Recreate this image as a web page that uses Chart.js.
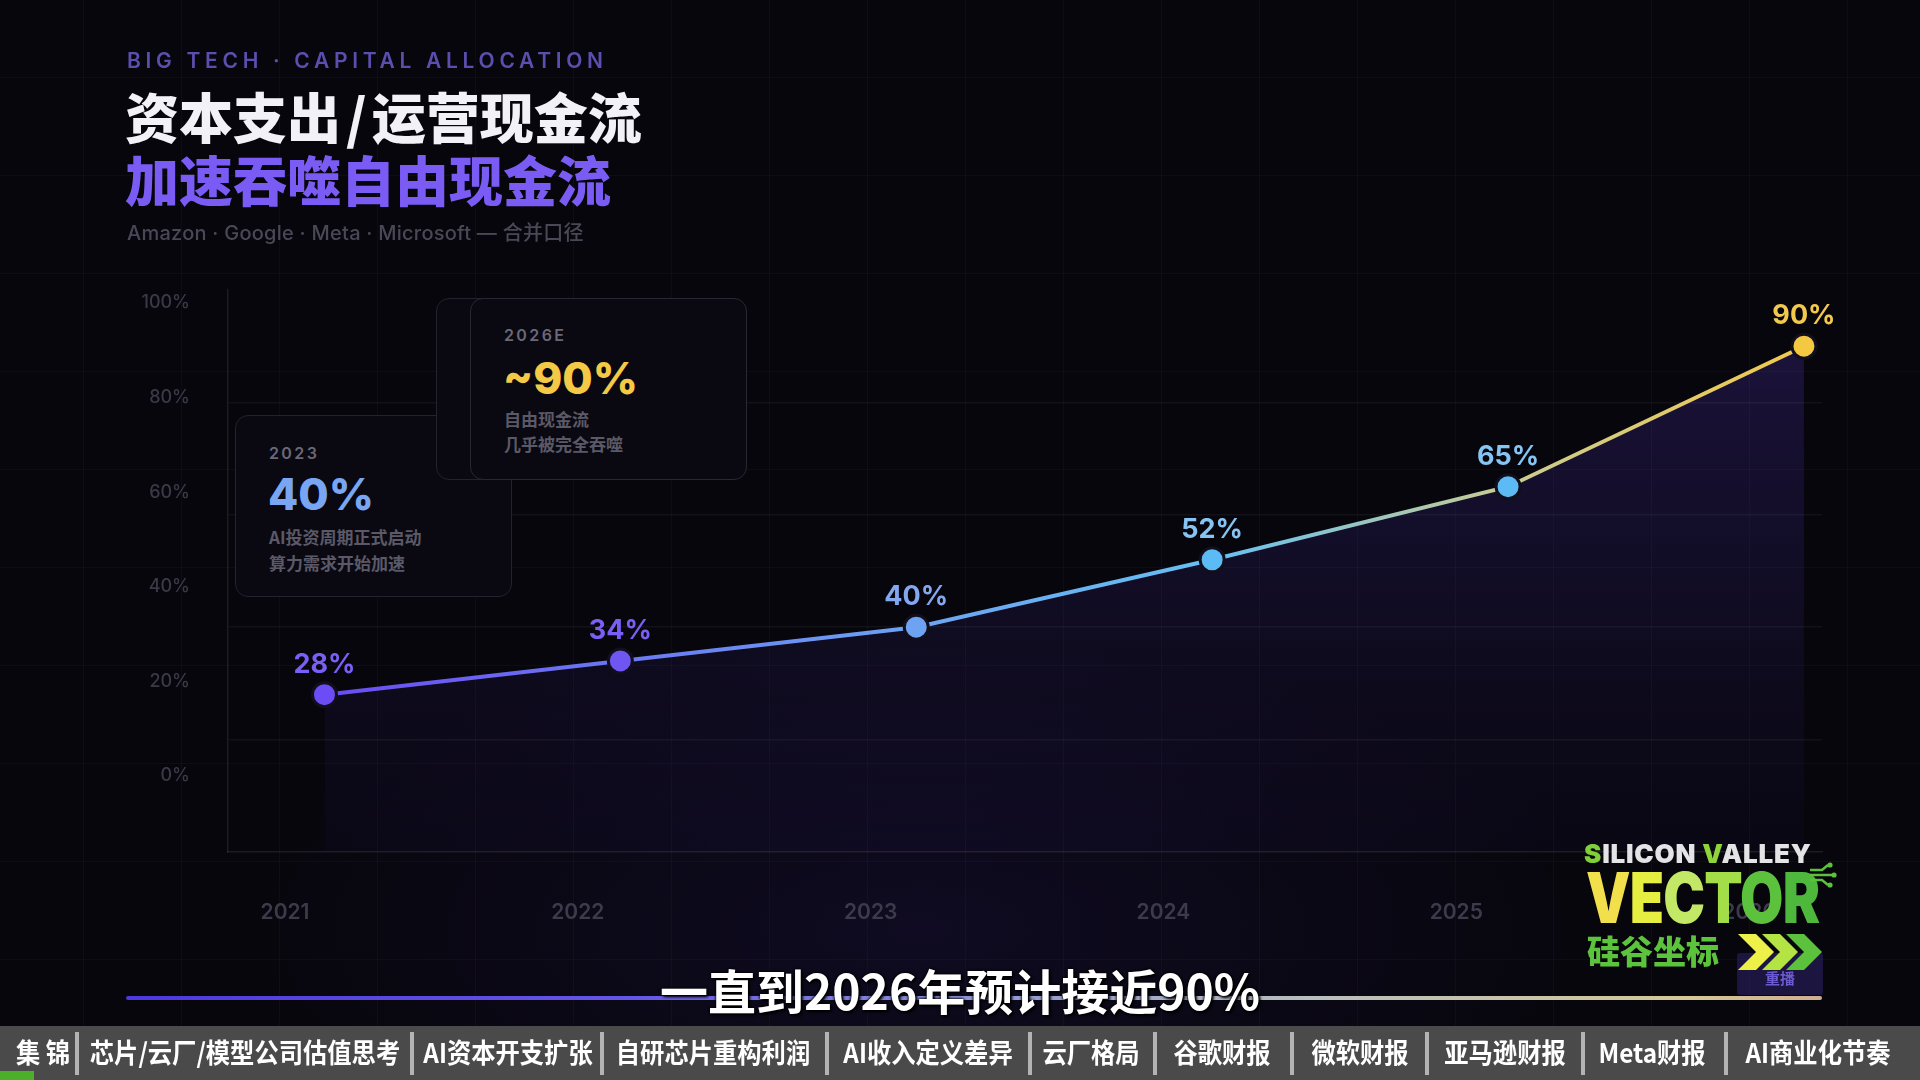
<!DOCTYPE html>
<html><head><meta charset="utf-8">
<script src="https://cdn.jsdelivr.net/npm/chart.js@4.4.1/dist/chart.umd.min.js"></script>
<style>
html,body{margin:0;padding:0;width:1920px;height:1080px;overflow:hidden;}
body{position:relative;font-family:Inter,"Noto Sans CJK SC",sans-serif;
 background:
  radial-gradient(ellipse 1000px 420px at 48% 86%, rgba(48,30,120,0.20), rgba(0,0,0,0) 70%),
  linear-gradient(rgba(255,255,255,0.028) 1px, rgba(0,0,0,0) 1px) 0px 77px / 98px 98px,
  linear-gradient(90deg, rgba(255,255,255,0.028) 1px, rgba(0,0,0,0) 1px) 83px 0px / 98px 98px,
  #07060c;}
#c{position:absolute;left:0;top:0;z-index:1;}
.abs{position:absolute;white-space:nowrap;}
.eyebrow{left:127px;top:48px;font:600 21px/26px Inter,sans-serif;letter-spacing:4.7px;color:#5a4fae;z-index:2;}
.t1{left:125px;top:86px;font:800 54px/60px "Noto Sans CJK SC",sans-serif;color:#f3f1f8;z-index:2;}
.t1 .sl{margin:0 5px;}
.t2{left:125px;top:149px;font:800 54px/60px "Noto Sans CJK SC",sans-serif;color:#7a5cf4;z-index:2;}
.sub{left:127px;top:221px;font:500 20px/24px Inter,"Noto Sans CJK SC",sans-serif;letter-spacing:0.25px;color:#4a4857;z-index:2;}
.card{position:absolute;width:277px;height:182px;box-sizing:border-box;border:1.5px solid #24222e;border-radius:13px;background:#0a0911;z-index:2;}
.card .yr{position:absolute;left:33px;font:600 16px/20px Inter,sans-serif;letter-spacing:2.4px;color:#6a6878;}
.card .big{position:absolute;left:32px;font:800 44px/46px Inter,sans-serif;}
.card .ln{position:absolute;left:33px;font:600 17px/22px "Noto Sans CJK SC",sans-serif;color:#5b5968;}
.caption{left:0;width:1920px;top:962px;text-align:center;font:700 48px/54px "Noto Sans CJK SC",sans-serif;color:#fff;z-index:6;
  text-shadow:0 0 3px #000,0 0 3px #000,2px 2px 3px #000;}
.prog{left:126px;top:996px;width:1696px;height:4px;border-radius:2px;z-index:3;
  background:linear-gradient(90deg,#4d39dc 0%,#6656e6 30%,#8f97d6 50%,#b9bfbc 70%,#d4c898 92%,#cfae8e 100%);}
.bar{left:0;top:1026px;width:1920px;height:54px;background:#4a4a4a;z-index:7;}
.bar .it{position:absolute;top:0;height:54px;font:700 27px/52px "Noto Sans CJK SC",sans-serif;color:#fff;transform:translateX(-50%) scaleX(0.9);white-space:nowrap;}
.bar .sp{position:absolute;top:6px;width:4px;height:43px;background:#b3b3b3;}
.bar .gr{position:absolute;left:0;top:45px;width:34px;height:9px;background:#4caf2a;}
.logo{z-index:5;}
</style></head>
<body>
<canvas id="c" width="1920" height="1080"></canvas>

<div class="abs eyebrow">BIG TECH · CAPITAL ALLOCATION</div>
<div class="abs t1">资本支出<span class="sl">/</span>运营现金流</div>
<div class="abs t2">加速吞噬自由现金流</div>
<div class="abs sub">Amazon · Google · Meta · Microsoft — 合并口径</div>

<div class="card" style="left:235px;top:415px;">
  <div class="yr" style="top:27px;">2023</div>
  <div class="big" style="top:55px;color:#79a6f2;">40%</div>
  <div class="ln" style="top:110px;">AI投资周期正式启动</div>
  <div class="ln" style="top:136px;">算力需求开始加速</div>
</div>
<div class="card" style="left:436px;top:298px;"></div>
<div class="card" style="left:470px;top:298px;border-color:#292733;">
  <div class="yr" style="top:26px;">2026E</div>
  <div class="big" style="top:56px;color:#f4c945;">~90%</div>
  <div class="ln" style="top:109px;">自由现金流</div>
  <div class="ln" style="top:134px;">几乎被完全吞噬</div>
</div>

<div class="abs prog"></div>

<div class="abs logo" style="left:1584px;top:841px;font:900 26px/26px Inter,sans-serif;letter-spacing:0.8px;color:#e4e4e6;">
  <span style="color:#7fce3a">S</span>ILICON <span style="color:#8fd43a">V</span>ALLEY</div>
<div class="abs logo" style="left:1586px;top:860px;font:900 70px/76px Inter,sans-serif;letter-spacing:-1px;transform-origin:0 50%;transform:scaleX(0.8);">
  <span style="color:#f2df4c">V</span><span style="color:#e6ee42">E</span><span style="color:#c2e866">C</span><span style="color:#a3de48">T</span><span style="color:#5cc23e">O</span><span style="color:#4db83c">R</span></div>
<svg class="abs logo" style="left:1808px;top:862px;" width="30" height="28" viewBox="0 0 30 28">
  <g stroke="#5cc23e" stroke-width="2.5" fill="none"><path d="M2 8 L14 8 L20 3"/><path d="M2 13 L24 13"/><path d="M2 18 L14 18 L20 23"/></g>
  <g fill="#5cc23e"><circle cx="22" cy="3" r="2.6"/><circle cx="26" cy="13" r="2.6"/><circle cx="22" cy="23" r="2.6"/></g>
</svg>
<div class="abs logo" style="left:1587px;top:931px;font:900 33px/38px 'Noto Sans CJK SC',sans-serif;color:#5cc43c;">硅谷坐标</div>
<div class="abs logo" style="left:1737px;top:953px;width:86px;height:42px;background:rgba(72,52,170,0.32);border-radius:3px;"></div>
<div class="abs logo" style="left:1737px;top:968px;width:86px;text-align:center;font:700 15px/20px 'Noto Sans CJK SC',sans-serif;color:#6b5ad0;">重播</div>
<svg class="abs logo" style="left:1738px;top:934px;z-index:6" width="90" height="36" viewBox="0 0 90 36">
  <polygon points="0,0 18,0 36,18 18,36 0,36 18,18" fill="#eef04a"/>
  <polygon points="24,0 42,0 60,18 42,36 24,36 42,18" fill="#b4e444"/>
  <polygon points="48,0 66,0 84,18 66,36 48,36 66,18" fill="#5cc23e"/>
</svg>

<div class="abs caption">一直到2026年预计接近90%</div>

<div class="abs bar" id="bar"></div>

<script>
// ---- data ----
const years = ['2021', '2022', '2023', '2024', '2025', '2026'];
const ratioValues = [28, 34, 40, 52, 65, 90];
const yTickValues = [0, 20, 40, 60, 80, 100];
const navItems = ['集 锦', '芯片/云厂/模型公司估值思考', 'AI资本开支扩张', '自研芯片重构利润', 'AI收入定义差异', '云厂格局', '谷歌财报', '微软财报', '亚马逊财报', 'Meta财报', 'AI商业化节奏'];

// ---- styles (not data) ----
const pointColors = ['#6b4cf5', '#6f56f2', '#6ea2f2', '#5cbaf5', '#5cbaf5', '#f5c842'];
const labelColors = ['#7b5ef6', '#7b5ef6', '#84a8f0', '#86c4f4', '#86c4f4', '#f2c94c'];
const navCenters = [43, 245, 508, 713, 928, 1091, 1222, 1360, 1505, 1652, 1818];
const navSeps = [77, 412, 602, 827, 1030, 1155, 1292, 1427, 1583, 1726];

// bottom nav bar
const bar = document.getElementById('bar');
navItems.forEach((t, i) => {
  const s = document.createElement('span'); s.className = 'it'; s.textContent = t;
  s.style.left = navCenters[i] + 'px'; bar.appendChild(s);
});
navSeps.forEach(x => { const d = document.createElement('div'); d.className = 'sp'; d.style.left = (x - 2) + 'px'; bar.appendChild(d); });
const g = document.createElement('div'); g.className = 'gr'; bar.appendChild(g);

const points = ratioValues.map((v, i) => ({ x: i, y: v }));

const valueLabels = {
  id: 'valueLabels',
  afterDatasetsDraw(chart) {
    const meta = chart.getDatasetMeta(0);
    const c = chart.ctx;
    c.save();
    c.font = '700 27px Inter, sans-serif';
    c.textAlign = 'center';
    c.textBaseline = 'alphabetic';
    meta.data.forEach((pt, i) => {
      c.fillStyle = labelColors[i];
      c.fillText(ratioValues[i] + '%', pt.x, pt.y - 22);
    });
    c.restore();
  }
};

new Chart(document.getElementById('c'), {
  type: 'line',
  data: {
    datasets: [{
      data: points,
      xAxisID: 'x', yAxisID: 'y',
      borderWidth: 4,
      tension: 0,
      fill: 'origin',
      borderColor: (ctx) => {
        const chart = ctx.chart;
        if (!chart.chartArea) return '#6b4cf5';
        const xs = chart.scales.x;
        const x0 = xs.getPixelForValue(0), x1 = xs.getPixelForValue(years.length - 1);
        const gr = chart.ctx.createLinearGradient(x0, 0, x1, 0);
        gr.addColorStop(0, '#6a4cf2');
        gr.addColorStop(0.4, '#6ca4f2');
        gr.addColorStop(0.6, '#66c0f2');
        gr.addColorStop(0.8, '#c9cc92');
        gr.addColorStop(1, '#f2c94c');
        return gr;
      },
      backgroundColor: (ctx) => {
        const chart = ctx.chart;
        const a = chart.chartArea;
        if (!a) return 'rgba(90,60,200,0.1)';
        const gr = chart.ctx.createLinearGradient(0, a.top, 0, a.bottom);
        gr.addColorStop(0, 'rgba(104,70,230,0.24)');
        gr.addColorStop(1, 'rgba(60,40,150,0.05)');
        return gr;
      },
      pointRadius: 12,
      pointHoverRadius: 12,
      pointBackgroundColor: pointColors,
      pointBorderColor: '#120f1c',
      pointBorderWidth: 3
    }]
  },
  options: {
    responsive: false,
    animation: false,
    devicePixelRatio: 1,
    layout: { padding: { top: 290, right: 98, bottom: 0, left: 0 } },
    plugins: { legend: { display: false }, tooltip: { enabled: false } },
    scales: {
      x: {
        type: 'linear', position: 'bottom', min: -0.326, max: 5.061, weight: 0,
        grid: { display: false, drawTicks: false },
        ticks: { display: false },
        border: { display: true, color: 'rgba(255,255,255,0.09)', width: 1.5 },
        afterFit(s) { s.height = 0; }
      },
      xl: {
        type: 'linear', position: 'bottom', min: -0.1947, max: 5.249, weight: 1,
        grid: { display: false, drawTicks: false },
        border: { display: false },
        afterBuildTicks(s) { s.ticks = years.map((_, i) => ({ value: i })); },
        ticks: {
          color: '#3d3b4b', font: { family: 'Inter', size: 21, weight: '600' },
          padding: 48, maxRotation: 0, autoSkip: false,
          callback: (v) => years[v]
        },
        afterFit(s) { s.height = 228; }
      },
      y: {
        type: 'linear', position: 'left', min: 0, max: 100, weight: 0,
        ticks: { display: false, stepSize: 20 },
        grid: {
          drawTicks: false, lineWidth: 1.5,
          color: (c) => (c.tick.value === 0 || c.tick.value === 100) ? 'rgba(0,0,0,0)' : 'rgba(255,255,255,0.05)'
        },
        border: { display: true, color: 'rgba(255,255,255,0.09)', width: 1.5 },
        afterFit(s) { s.width = 0; }
      },
      yl: {
        type: 'linear', position: 'left', min: -16.07, max: 102.75, weight: 1,
        grid: { display: false, drawTicks: false },
        border: { display: false },
        afterBuildTicks(s) { s.ticks = yTickValues.map(v => ({ value: v })); },
        ticks: {
          color: '#3b3947', font: { family: 'Inter', size: 18, weight: '500' },
          padding: 38, callback: (v) => v + '%'
        },
        afterFit(s) { s.width = 228; }
      }
    }
  },
  plugins: [valueLabels]
});
</script>
</body></html>
